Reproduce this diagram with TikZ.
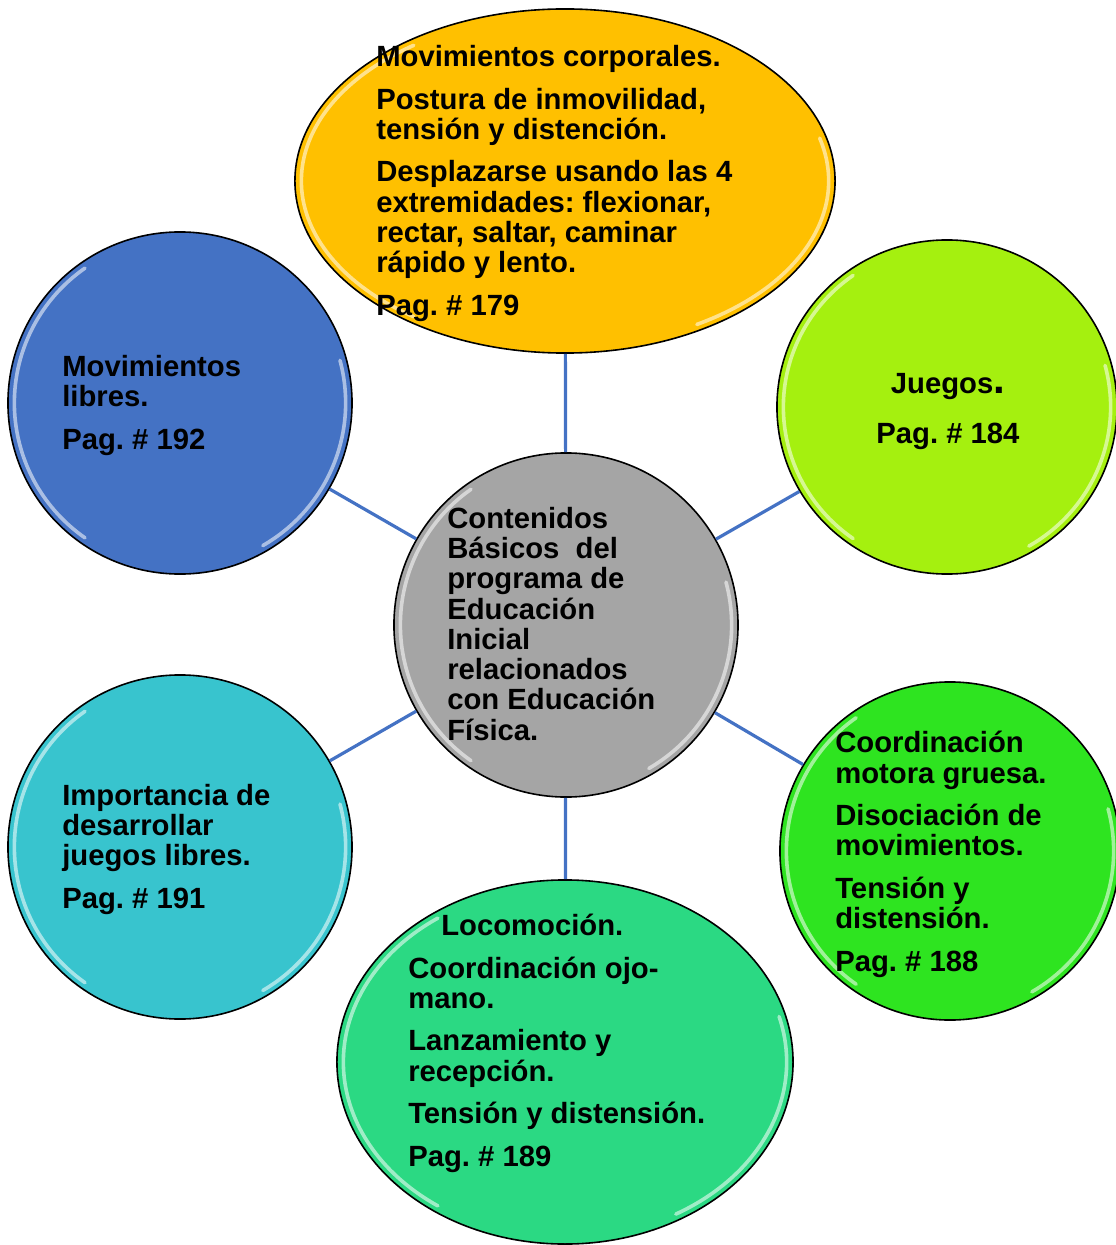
\documentclass[tikz,border=0pt]{standalone}
\usepackage{fontspec}
\setmainfont{Liberation Sans}
\usetikzlibrary{shapes.geometric,calc}
\frenchspacing

\definecolor{orangeC}{HTML}{FFC000}
\definecolor{blueC}{HTML}{4472C4}
\definecolor{limeC}{HTML}{A5F00F}
\definecolor{grayC}{HTML}{A5A5A5}
\definecolor{cyanC}{HTML}{38C4CE}
\definecolor{greenC}{HTML}{2EE420}
\definecolor{tealC}{HTML}{2BD983}
\definecolor{linkC}{HTML}{4472C4}

\begin{document}
\begin{tikzpicture}[x=0.025cm,y=0.025cm,
	glow/.style={path picture={
		\draw[white, opacity=.55, line width=0.09cm, line cap=round]
		let \p0=(path picture bounding box.center),
		\p1=($(path picture bounding box.north east)-(\p0)-(0.16cm,0.16cm)$) in
		($(\p0)+(125:\x1 and \y1)$) arc[start angle=125, end angle=235, x radius=\x1, y radius=\y1]
		($(\p0)+(15:\x1 and \y1)$) arc[start angle=15, end angle=-60, x radius=\x1, y radius=\y1];
	}},
	bubble/.style={ellipse, draw=black, line width=0.04cm, inner sep=0pt, glow},
	txt/.style={font=\bfseries\fontsize{20.8pt}{21.5pt}\selectfont, align=left, inner sep=0pt, anchor=base west},
	link/.style={draw=linkC, line width=0.08cm}]
	\useasboundingbox (-566,-620) rectangle (550,625);
	
	\node[bubble, fill=orangeC, minimum width=13.5cm, minimum height=8.6cm] (corporales) at (-1,444) {};
	\node[bubble, fill=blueC, minimum width=8.6cm, minimum height=8.55cm] (libres) at (-386,222) {};
	\node[bubble, fill=limeC, minimum width=8.5cm, minimum height=8.35cm] (juegos) at (381,218) {};
	\node[bubble, fill=grayC, minimum width=8.6cm, minimum height=8.6cm] (hub) at (0,0) {};
	\node[bubble, fill=cyanC, minimum width=8.6cm, minimum height=8.6cm] (importancia) at (-386,-222) {};
	\node[bubble, fill=greenC, minimum width=8.5cm, minimum height=8.45cm] (coordinacion) at (384,-226) {};
	\node[bubble, fill=tealC, minimum width=11.4cm, minimum height=9.1cm] (locomocion) at (-1,-437) {};
	
	\draw[link] (hub) edge (corporales)
	(hub) edge (juegos)
	(hub) edge (coordinacion)
	(hub) edge (locomocion)
	(hub) edge (importancia)
	(hub) edge (libres);
	
	% texts sit on the baseline of their last line
	\node[txt] (corporales-txt) at (-190,310) {Movimientos corporales.\\[8.7pt]
		Postura de inmovilidad,\\ tensión y distención.\\[8.7pt]
		Desplazarse usando las 4\\ extremidades: flexionar,\\ rectar, saltar, caminar\\ rápido y lento.\\[8.7pt]
		Pag. \# 179};
	\node[txt] (libres-txt) at (-504,176) {Movimientos\\ libres.\\[8.7pt] Pag. \# 192};
	\node[txt, align=center, anchor=base] (juegos-txt) at (382,182) {Juegos{\fontsize{30pt}{30pt}\selectfont.}\\[14pt] Pag. \# 184};
	\node[txt] (hub-txt) at (-119,-115) {Contenidos\\ Básicos~ del\\ programa de\\ Educación\\ Inicial\\ relacionados\\ con Educación\\ Física.};
	\node[txt] (importancia-txt) at (-504,-283) {Importancia de\\ desarrollar\\ juegos libres.\\[8.7pt] Pag. \# 191};
	\node[txt] (coordinacion-txt) at (269,-346) {Coordinación\\ motora gruesa.\\[8.7pt]
		Disociación de\\ movimientos.\\[8.7pt] Tensión y\\ distensión.\\[8.7pt] Pag. \# 188};
	\node[txt] (locomocion-txt) at (-158,-541) {\hspace*{0.825cm}Locomoción.\\[8.7pt]
		Coordinación ojo-\\ mano.\\[8.7pt] Lanzamiento y\\ recepción.\\[8.7pt]
		Tensión y distensión.\\[8.7pt] Pag. \# 189};
\end{tikzpicture}
\end{document}
